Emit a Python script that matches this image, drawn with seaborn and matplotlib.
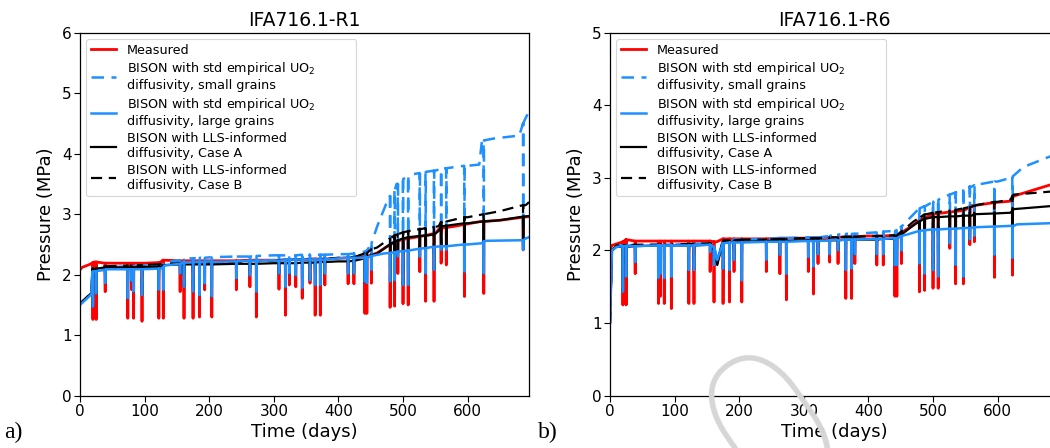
import numpy as np
import pandas as pd
import matplotlib
matplotlib.use("Agg")
import matplotlib.pyplot as plt
import seaborn as sns

# ---------------- data: panel a) IFA716.1-R1 ----------------
titles = ["IFA716.1-R1", "IFA716.1-R6"]
labels = ["Measured",
          "BISON with std empirical UO$_2$\ndiffusivity, small grains",
          "BISON with std empirical UO$_2$\ndiffusivity, large grains",
          "BISON with LLS-informed\ndiffusivity, Case A",
          "BISON with LLS-informed\ndiffusivity, Case B"]
xticks = [0, 100, 200, 300, 400, 500, 600]

# base curves (time in days, pressure in MPa)
a_meas_t = [0, 3, 15, 22, 40, 100, 124, 128, 200, 300, 380, 440, 460, 480, 500, 520, 550, 555, 580, 620, 650, 695]
a_meas_v = [2.08, 2.12, 2.17, 2.21, 2.19, 2.19, 2.2, 2.24, 2.23, 2.24, 2.26, 2.3, 2.36, 2.5, 2.58, 2.62, 2.68, 2.75, 2.8, 2.88, 2.9, 2.96]
a_large_t = [0, 10, 18, 19, 40, 124, 130, 160, 200, 300, 400, 443, 470, 515, 546, 600, 622, 628, 685, 690, 695]
a_large_v = [1.5, 1.6, 1.68, 2.05, 2.09, 2.1, 2.15, 2.2, 2.22, 2.24, 2.27, 2.3, 2.35, 2.41, 2.46, 2.5, 2.52, 2.56, 2.57, 2.6, 2.62]
a_small_t = [0, 18, 19, 40, 130, 170, 300, 400, 440, 450, 460, 475, 490, 510, 550, 560, 600, 618, 622, 640, 680, 688, 695]
a_small_v = [1.52, 1.7, 2.1, 2.12, 2.2, 2.27, 2.32, 2.34, 2.38, 2.5, 2.8, 3.2, 3.5, 3.65, 3.72, 3.75, 3.8, 3.82, 4.2, 4.25, 4.3, 4.55, 4.7]
a_caseA_t = [0, 18, 19, 40, 124, 130, 200, 300, 400, 440, 460, 480, 500, 540, 555, 560, 600, 650, 695]
a_caseA_v = [1.52, 1.7, 2.08, 2.12, 2.13, 2.16, 2.17, 2.19, 2.22, 2.27, 2.35, 2.5, 2.6, 2.65, 2.72, 2.8, 2.85, 2.9, 2.97]
a_caseB_t = [0, 18, 19, 40, 130, 200, 300, 400, 440, 460, 480, 500, 520, 555, 560, 600, 650, 690, 695]
a_caseB_v = [1.52, 1.7, 2.1, 2.14, 2.18, 2.2, 2.24, 2.28, 2.35, 2.45, 2.6, 2.7, 2.75, 2.8, 2.87, 2.95, 3.05, 3.15, 3.2]

# pressure drops (shutdowns): time, top and bottom of each drop
a_sp_t = [20, 25, 39, 74, 80, 83, 96, 122, 129, 155, 161, 175, 185, 193, 204, 242, 263, 273, 308, 318, 324, 334, 344,
          356, 364, 372, 379, 415, 424, 441, 444, 451, 480, 487, 492, 500, 508, 526, 535, 548, 559, 567, 595, 625, 686]
a_meas_top = [2.2, 2.21, 2.19, 2.19, 2.19, 2.19, 2.19, 2.2, 2.24, 2.23, 2.23, 2.23, 2.23, 2.23, 2.23, 2.23, 2.24, 2.24,
              2.24, 2.25, 2.25, 2.25, 2.25, 2.26, 2.26, 2.26, 2.26, 2.28, 2.29, 2.3, 2.3, 2.33, 2.5, 2.53, 2.56, 2.58,
              2.6, 2.63, 2.65, 2.68, 2.77, 2.78, 2.83, 2.88, 2.95]
a_meas_low = [1.26, 1.26, 1.72, 1.28, 1.75, 1.28, 1.23, 1.28, 1.28, 1.72, 1.28, 1.28, 1.3, 1.75, 1.3, 1.75, 1.8, 1.3,
              1.76, 1.33, 1.83, 1.8, 1.61, 1.86, 1.33, 1.33, 1.83, 1.85, 1.85, 1.36, 1.36, 1.86, 1.46, 1.48, 2.02, 1.52,
              1.5, 2.05, 1.56, 1.56, 2.19, 2.16, 1.64, 1.69, 2.41]
a_model_low = [1.47, 1.69, 1.86, 1.61, 1.9, 1.72, 1.66, 1.75, 1.75, 2.02, 1.8, 1.72, 1.66, 1.86, 1.64, 1.94, 1.99, 1.72,
               2.02, 1.8, 2.02, 1.99, 1.78, 1.91, 1.83, 1.83, 2.02, 2.02, 2.02, 1.89, 1.86, 2.08, 1.89, 1.91, 2.3, 1.83,
               1.83, 2.3, 2.02, 2.08, 2.41, 2.41, 2.05, 2.02, 2.41]
a_large_top = [2.05, 2.06, 2.08, 2.09, 2.09, 2.09, 2.09, 2.1, 2.12, 2.18, 2.2, 2.21, 2.21, 2.21, 2.21, 2.22, 2.23, 2.23,
               2.23, 2.25, 2.25, 2.25, 2.25, 2.25, 2.25, 2.25, 2.25, 2.28, 2.28, 2.28, 2.28, 2.31, 2.36, 2.37, 2.38,
               2.39, 2.4, 2.43, 2.44, 2.46, 2.47, 2.47, 2.5, 2.55, 2.57]
a_small_top = [2.1, 2.1, 2.12, 2.14, 2.14, 2.14, 2.15, 2.16, 2.2, 2.24, 2.25, 2.27, 2.28, 2.28, 2.29, 2.3, 2.3, 2.31,
               2.32, 2.32, 2.32, 2.32, 2.33, 2.33, 2.33, 2.33, 2.33, 2.34, 2.35, 2.38, 2.4, 2.52, 3.3, 3.4, 3.5, 3.58,
               3.63, 3.68, 3.7, 3.72, 3.75, 3.76, 3.8, 4.22, 4.5]
a_caseA_top = [2.08, 2.1, 2.12, 2.12, 2.12, 2.12, 2.13, 2.13, 2.15, 2.17, 2.17, 2.17, 2.17, 2.17, 2.17, 2.18, 2.18, 2.18,
               2.19, 2.19, 2.19, 2.19, 2.2, 2.2, 2.2, 2.21, 2.21, 2.22, 2.23, 2.27, 2.28, 2.32, 2.5, 2.55, 2.57, 2.6,
               2.62, 2.64, 2.65, 2.67, 2.8, 2.81, 2.85, 2.88, 2.96]
a_caseB_top = [2.1, 2.11, 2.14, 2.15, 2.15, 2.15, 2.16, 2.17, 2.18, 2.19, 2.19, 2.2, 2.2, 2.2, 2.2, 2.21, 2.22, 2.22,
               2.24, 2.24, 2.24, 2.25, 2.25, 2.25, 2.26, 2.26, 2.26, 2.28, 2.29, 2.35, 2.36, 2.42, 2.6, 2.65, 2.67,
               2.7, 2.72, 2.75, 2.77, 2.79, 2.87, 2.88, 2.95, 3.0, 3.15]

# ---------------- data: panel b) IFA716.1-R6 ----------------
b_meas_t = [0, 3, 20, 25, 40, 155, 165, 175, 300, 400, 440, 450, 470, 485, 500, 550, 560, 620, 625, 680, 695]
b_meas_v = [2.0, 2.07, 2.12, 2.15, 2.13, 2.13, 2.12, 2.16, 2.17, 2.2, 2.21, 2.25, 2.35, 2.45, 2.5, 2.56, 2.62, 2.68, 2.75, 2.9, 2.93]
b_large_t = [0, 3, 10, 155, 160, 166, 175, 300, 350, 440, 460, 480, 500, 550, 625, 630, 695]
b_large_v = [1.0, 2.0, 2.05, 2.08, 2.05, 1.87, 2.1, 2.13, 2.15, 2.17, 2.22, 2.27, 2.29, 2.31, 2.34, 2.36, 2.38]
b_small_t = [0, 3, 10, 155, 166, 178, 300, 350, 440, 450, 470, 490, 520, 560, 600, 620, 640, 680, 695]
b_small_v = [1.0, 2.0, 2.07, 2.1, 1.85, 2.14, 2.18, 2.22, 2.27, 2.32, 2.5, 2.62, 2.75, 2.88, 2.95, 3.0, 3.15, 3.29, 3.35]
b_caseA_t = [0, 3, 10, 155, 166, 178, 300, 440, 450, 470, 490, 500, 560, 565, 620, 625, 680, 695]
b_caseA_v = [1.0, 2.0, 2.05, 2.08, 1.8, 2.12, 2.14, 2.16, 2.2, 2.35, 2.44, 2.46, 2.48, 2.5, 2.52, 2.57, 2.61, 2.62]
b_caseB_t = [0, 3, 10, 155, 166, 178, 300, 440, 450, 470, 490, 520, 560, 600, 620, 625, 680, 695]
b_caseB_v = [1.0, 2.0, 2.07, 2.1, 1.82, 2.14, 2.17, 2.21, 2.25, 2.4, 2.5, 2.55, 2.6, 2.67, 2.7, 2.77, 2.81, 2.83]

b_sp_t = [20, 25, 39, 75, 78, 84, 95, 122, 130, 155, 161, 175, 185, 192, 204, 242, 263, 273, 307, 315, 322, 340, 353,
          365, 374, 379, 413, 423, 441, 444, 451, 479, 487, 500, 508, 526, 535, 547, 557, 564, 595, 623]
b_meas_top = [2.12, 2.15, 2.13, 2.13, 2.13, 2.13, 2.13, 2.13, 2.13, 2.13, 2.12, 2.16, 2.16, 2.16, 2.16, 2.16, 2.17,
              2.17, 2.17, 2.17, 2.18, 2.18, 2.18, 2.19, 2.19, 2.19, 2.2, 2.2, 2.21, 2.21, 2.25, 2.42, 2.45, 2.5, 2.51,
              2.53, 2.54, 2.55, 2.6, 2.62, 2.66, 2.72]
b_meas_low = [1.25, 1.25, 1.68, 1.27, 1.37, 1.27, 1.2, 1.27, 1.27, 1.71, 1.29, 1.27, 1.29, 1.71, 1.29, 1.71, 1.68, 1.32,
              1.71, 1.4, 1.82, 1.84, 1.82, 1.34, 1.34, 1.82, 1.8, 1.8, 1.37, 1.37, 1.82, 1.43, 1.45, 1.48, 1.48, 2.03,
              1.54, 1.54, 2.08, 2.12, 1.63, 1.66]
b_model_low = [1.43, 1.64, 1.84, 1.62, 1.68, 1.62, 1.64, 1.73, 1.73, 1.98, 1.8, 1.75, 1.73, 1.87, 1.59, 1.87, 1.94, 1.68,
               1.91, 1.78, 1.95, 1.95, 2.0, 1.73, 1.75, 1.95, 1.95, 1.95, 1.8, 1.8, 2.0, 1.82, 1.68, 1.73, 1.64, 2.1,
               1.8, 1.64, 2.15, 2.2, 1.94, 1.9]
b_large_top = [2.06, 2.06, 2.06, 2.07, 2.07, 2.07, 2.07, 2.07, 2.07, 2.08, 2.04, 2.1, 2.11, 2.11, 2.11, 2.12, 2.12,
               2.12, 2.13, 2.13, 2.13, 2.14, 2.14, 2.15, 2.15, 2.15, 2.16, 2.16, 2.17, 2.17, 2.2, 2.27, 2.28, 2.29,
               2.29, 2.3, 2.3, 2.31, 2.31, 2.32, 2.33, 2.34]
b_small_top = [2.07, 2.07, 2.07, 2.08, 2.08, 2.08, 2.08, 2.09, 2.09, 2.1, 2.06, 2.14, 2.14, 2.15, 2.15, 2.16, 2.17,
               2.17, 2.18, 2.18, 2.18, 2.2, 2.22, 2.23, 2.23, 2.23, 2.25, 2.26, 2.27, 2.28, 2.33, 2.58, 2.61, 2.67,
               2.7, 2.77, 2.8, 2.85, 2.88, 2.9, 2.95, 3.02]
b_caseA_top = [2.05, 2.05, 2.06, 2.07, 2.07, 2.07, 2.07, 2.07, 2.07, 2.08, 2.0, 2.12, 2.12, 2.12, 2.12, 2.13, 2.13,
               2.13, 2.14, 2.14, 2.14, 2.14, 2.14, 2.15, 2.15, 2.15, 2.15, 2.16, 2.16, 2.17, 2.22, 2.4, 2.44, 2.46,
               2.46, 2.47, 2.47, 2.48, 2.48, 2.5, 2.51, 2.55]
b_caseB_top = [2.07, 2.07, 2.08, 2.08, 2.08, 2.08, 2.08, 2.09, 2.09, 2.1, 2.02, 2.14, 2.14, 2.14, 2.15, 2.15, 2.16,
               2.16, 2.17, 2.17, 2.17, 2.18, 2.18, 2.19, 2.19, 2.19, 2.2, 2.2, 2.21, 2.21, 2.26, 2.45, 2.5, 2.52,
               2.53, 2.55, 2.56, 2.58, 2.6, 2.62, 2.67, 2.75]

panels = [
    dict(title=titles[0], ymax=6,
         meas=(a_meas_t, a_meas_v, a_meas_top, a_meas_low),
         small=(a_small_t, a_small_v, a_small_top, a_model_low),
         large=(a_large_t, a_large_v, a_large_top, a_model_low),
         caseA=(a_caseA_t, a_caseA_v, a_caseA_top, a_model_low),
         caseB=(a_caseB_t, a_caseB_v, a_caseB_top, a_model_low),
         sp_t=a_sp_t),
    dict(title=titles[1], ymax=5,
         meas=(b_meas_t, b_meas_v, b_meas_top, b_meas_low),
         small=(b_small_t, b_small_v, b_small_top, b_model_low),
         large=(b_large_t, b_large_v, b_large_top, b_model_low),
         caseA=(b_caseA_t, b_caseA_v, b_caseA_top, b_model_low),
         caseB=(b_caseB_t, b_caseB_v, b_caseB_top, b_model_low),
         sp_t=b_sp_t),
]


def build_path(kt, kv, sp_t, top, low):
    pts = list(zip(kt, kv))
    for t, tp, lo in zip(sp_t, top, low):
        pts += [(t - 0.3, tp), (t, lo), (t + 0.3, tp)]
    pts.sort(key=lambda p: p[0])
    return pd.DataFrame(pts, columns=["t", "p"])


plt.rcParams["font.family"] = ["DejaVu Sans"]
fig = plt.figure(figsize=(10.5, 4.48), dpi=100)
positions = [[80 / 1050, 52.3 / 448, 449 / 1050, 363 / 448],
             [610 / 1050, 52.3 / 448, 449 / 1050, 363 / 448]]

RED = "#ff0000"
BLUE = "#1e90ff"
order = ["meas", "small", "caseA", "caseB", "large"]
style = {
    "meas": dict(color=RED, lw=2.0, dash=None, lab=labels[0]),
    "small": dict(color=BLUE, lw=1.8, dash=(5, 3), lab=labels[1]),
    "large": dict(color=BLUE, lw=1.8, dash=None, lab=labels[2]),
    "caseA": dict(color="black", lw=1.6, dash=None, lab=labels[3]),
    "caseB": dict(color="black", lw=1.6, dash=(5, 3), lab=labels[4]),
}
legend_order = ["meas", "small", "large", "caseA", "caseB"]

for pos, pnl in zip(positions, panels):
    ax = fig.add_axes(pos)
    handles = {}
    for key in order:
        kt, kv, top, low = pnl[key]
        df = build_path(kt, kv, pnl["sp_t"], top, low)
        st = style[key]
        sns.lineplot(data=df, x="t", y="p", ax=ax, color=st["color"], lw=st["lw"],
                     sort=False, estimator=None, label=st["lab"])
        line = ax.get_lines()[-1]
        if st["dash"] is not None:
            line.set_dashes(st["dash"])
        handles[key] = line
    ax.set_xlim(0, 695)
    ax.set_ylim(0, pnl["ymax"])
    ax.set_xticks(xticks)
    ax.set_yticks(range(0, pnl["ymax"] + 1))
    ax.tick_params(labelsize=11, length=4, width=0.8, direction="out", pad=2)
    ax.set_xlabel("Time (days)", fontsize=13, labelpad=3)
    ax.set_ylabel("Pressure (MPa)", fontsize=13, labelpad=5)
    ax.set_title(pnl["title"], fontsize=13.5, pad=5)
    for sp in ax.spines.values():
        sp.set_linewidth(0.9)
    leg = ax.legend([handles[k] for k in legend_order], [style[k]["lab"] for k in legend_order],
                    loc="upper left", fontsize=9.2, frameon=True, handlelength=2.0,
                    labelspacing=0.3, borderpad=0.35, handletextpad=0.8,
                    bbox_to_anchor=(0.0, 0.0, 0.63, 1.0), mode="expand")
    leg.get_frame().set_edgecolor("#cccccc")
    leg.get_frame().set_linewidth(0.8)

fig.text(0.004, 0.022, "a)", fontsize=17, family=["Liberation Serif"])
fig.text(0.512, 0.022, "b)", fontsize=17, family=["Liberation Serif"])
fig.text(0.74, 0.035, "0", fontsize=150, color="#d6d6d6", rotation=35, ha="center", va="center",
         rotation_mode="anchor", family=["Roboto"], fontweight="light", zorder=10)

fig.savefig("out.png", dpi=100)
